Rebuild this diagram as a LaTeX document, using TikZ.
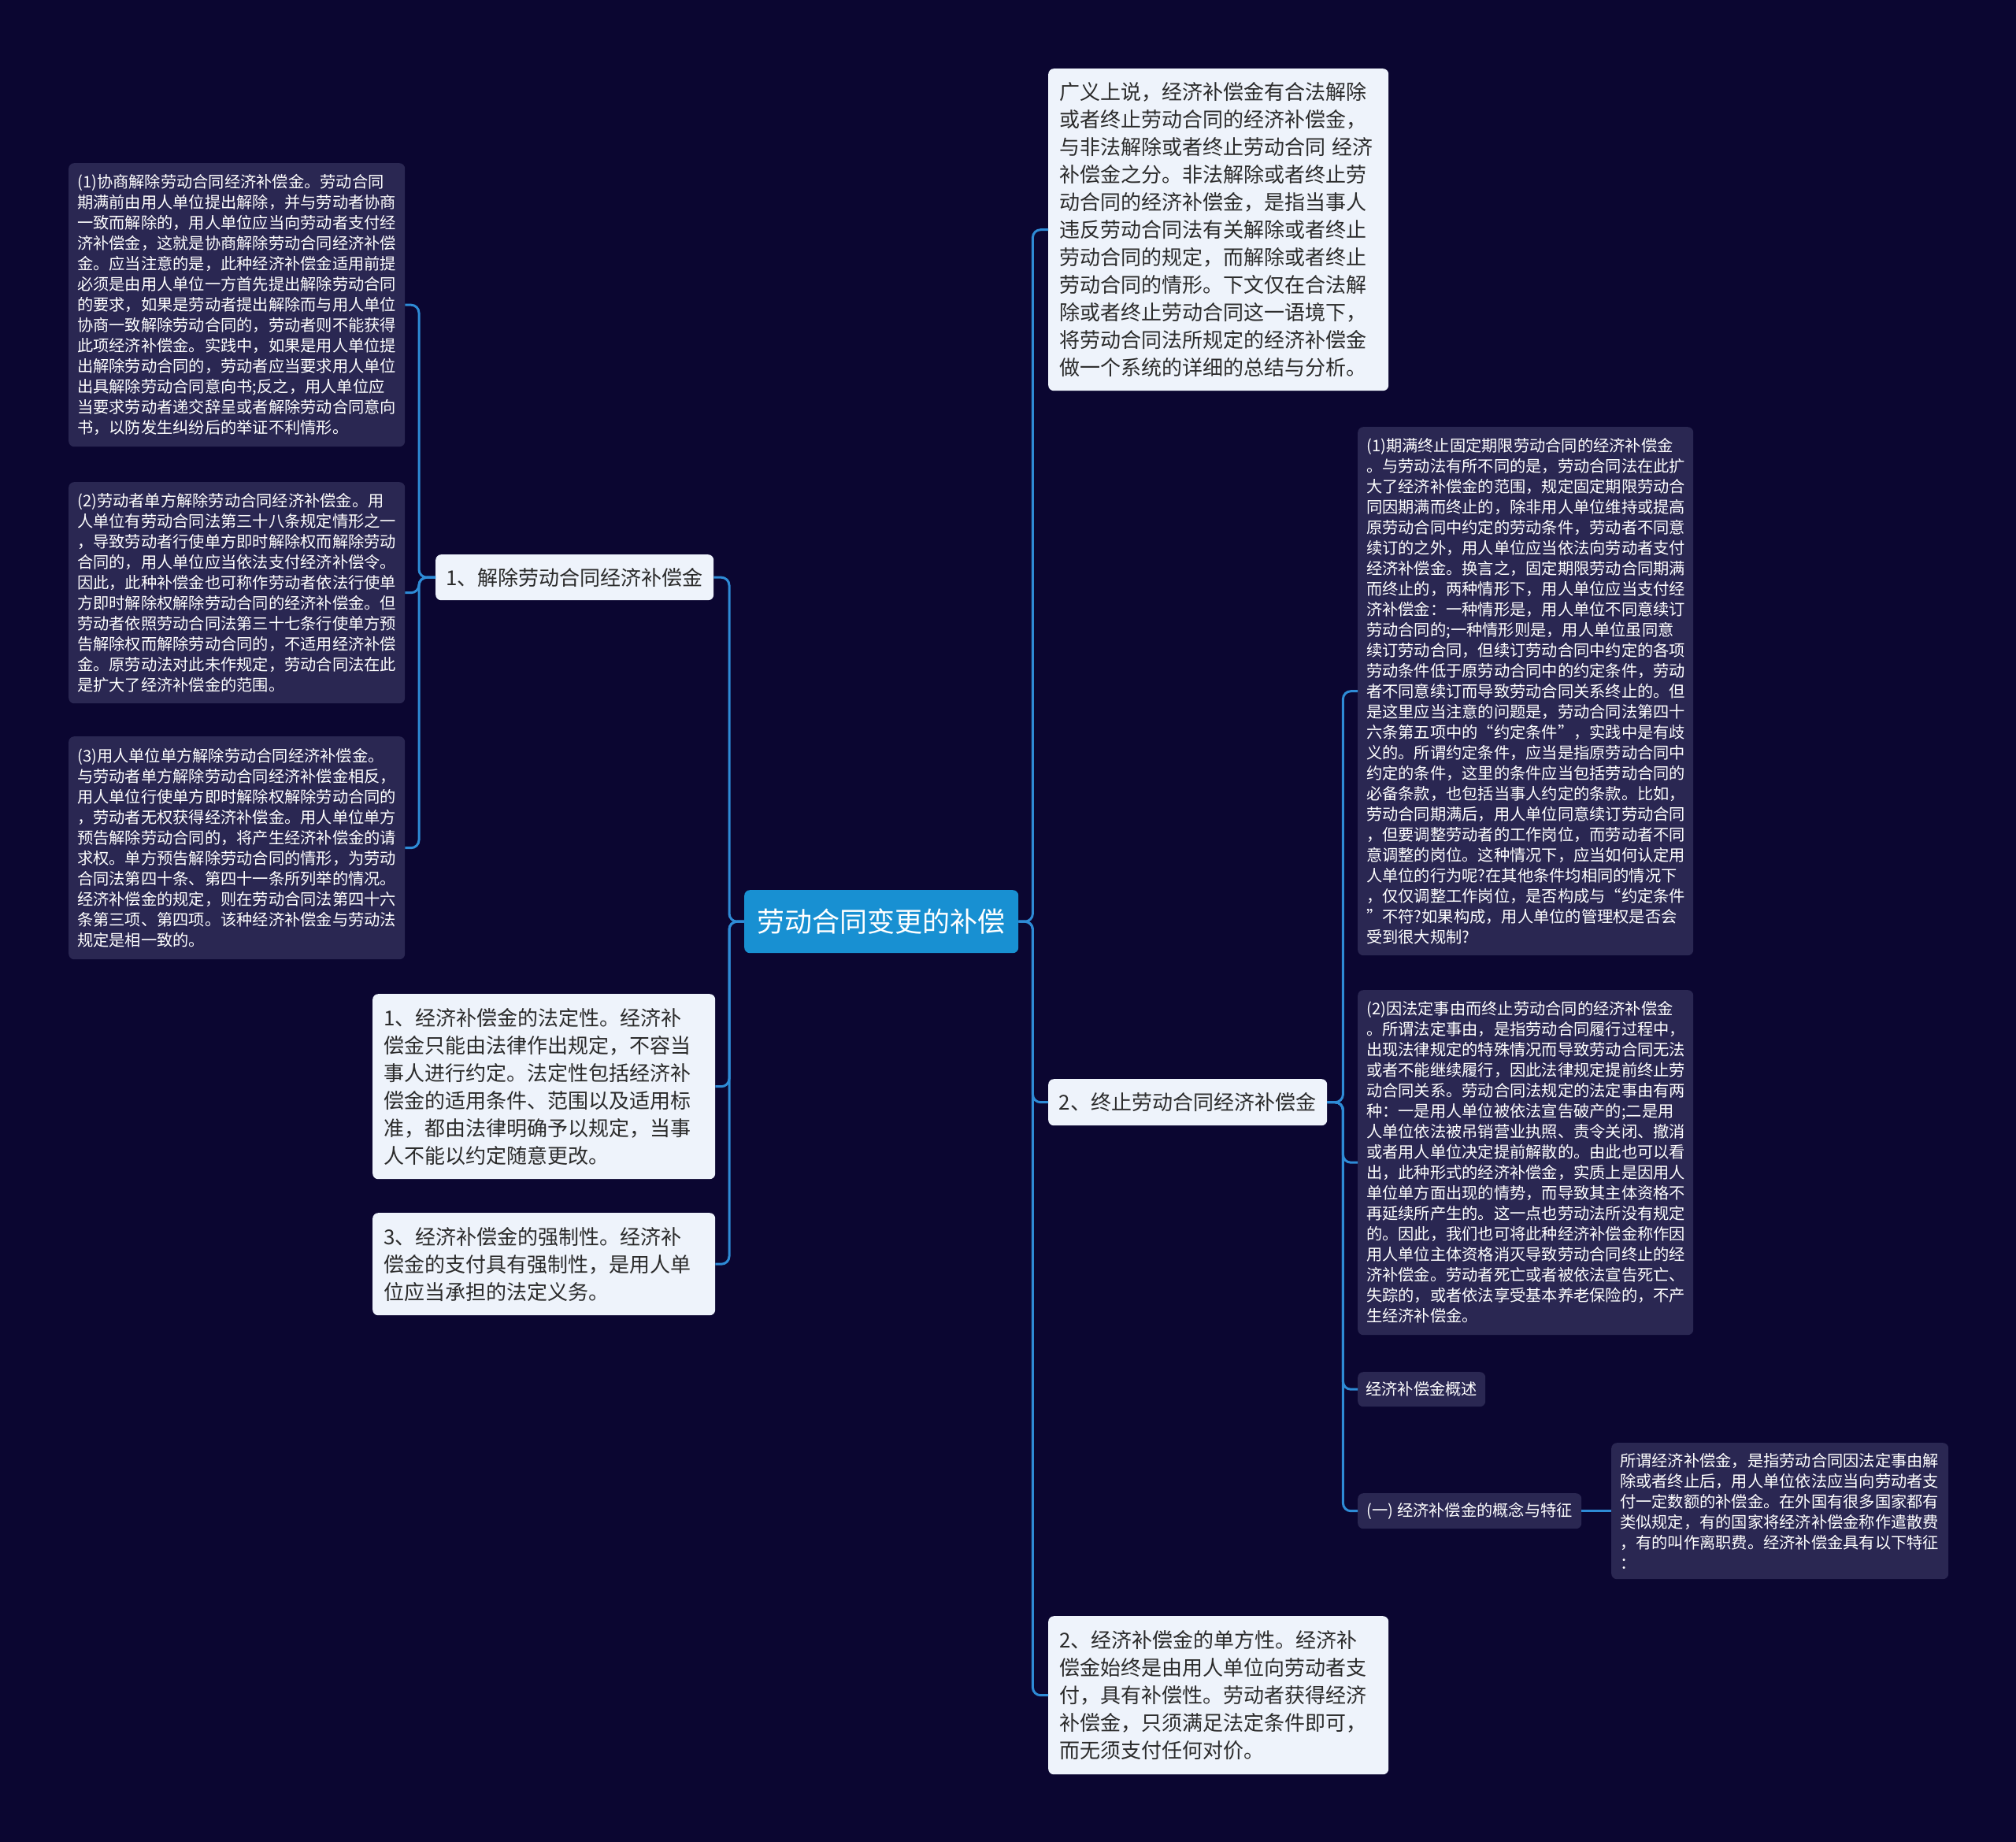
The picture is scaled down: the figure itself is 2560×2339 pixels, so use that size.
\documentclass[tikz,border=0pt]{standalone}
\usepackage{fontspec}
\newfontfamily\cjk{Noto Sans CJK SC}
\definecolor{bgc}{HTML}{0B0631}
\definecolor{lightc}{HTML}{EEF3FB}
\definecolor{darkc}{HTML}{2A2752}
\definecolor{darktext}{HTML}{2B2B2B}
\definecolor{rootc}{HTML}{1890D2}
\definecolor{linec}{HTML}{2E8BD6}
\begin{document}
\begin{tikzpicture}[x=1pt,y=-1pt,
  box/.style={anchor=north west, rounded corners=7pt, inner ysep=0pt},
  lightbox/.style={box, fill=lightc, text=darktext, font=\cjk\fontsize{26}{35}\selectfont, inner xsep=14pt, align=left},
  darkbox/.style={box, fill=darkc, text=white, font=\cjk\fontsize{20.25}{26}\selectfont, inner xsep=11pt, align=left},
  lightlabel/.style={box, fill=lightc, text=darktext, font=\cjk\fontsize{26}{35}\selectfont, inner xsep=0pt, align=center},
  darklabel/.style={box, fill=darkc, text=white, font=\cjk\fontsize{20.25}{26}\selectfont, inner xsep=0pt, align=center},
  rootbox/.style={box, fill=rootc, text=white, font=\cjk\fontsize{35}{42}\selectfont, inner xsep=0pt, align=center},
  conn/.style={draw=linec, line width=3pt, rounded corners=10pt}]
\useasboundingbox (0,0) rectangle (2560,2339);
\fill[bgc] (0,0) rectangle (2560,2339);

% root
\node[rootbox, minimum width=348pt, minimum height=80pt] (root) at (945,1130) {劳动合同变更的补偿};

% left branch
\node[lightlabel, minimum width=353pt, minimum height=58pt] (B1) at (553,704) {1、解除劳动合同经济补偿金};

\node[darkbox, text width=405pt, minimum height=360pt] (L1) at (87,207) {(1)协商解除劳动合同经济补偿金。劳动合同\\
期满前由用人单位提出解除，并与劳动者协商\\
一致而解除的，用人单位应当向劳动者支付经\\
济补偿金，这就是协商解除劳动合同经济补偿\\
金。应当注意的是，此种经济补偿金适用前提\\
必须是由用人单位一方首先提出解除劳动合同\\
的要求，如果是劳动者提出解除而与用人单位\\
协商一致解除劳动合同的，劳动者则不能获得\\
此项经济补偿金。实践中，如果是用人单位提\\
出解除劳动合同的，劳动者应当要求用人单位\\
出具解除劳动合同意向书;反之，用人单位应\\
当要求劳动者递交辞呈或者解除劳动合同意向\\
书，以防发生纠纷后的举证不利情形。};

\node[darkbox, text width=405pt, minimum height=281pt] (L2) at (87,612) {(2)劳动者单方解除劳动合同经济补偿金。用\\
人单位有劳动合同法第三十八条规定情形之一\\
，导致劳动者行使单方即时解除权而解除劳动\\
合同的，用人单位应当依法支付经济补偿令。\\
因此，此种补偿金也可称作劳动者依法行使单\\
方即时解除权解除劳动合同的经济补偿金。但\\
劳动者依照劳动合同法第三十七条行使单方预\\
告解除权而解除劳动合同的，不适用经济补偿\\
金。原劳动法对此未作规定，劳动合同法在此\\
是扩大了经济补偿金的范围。};

\node[darkbox, text width=405pt, minimum height=283pt] (L3) at (87,935) {(3)用人单位单方解除劳动合同经济补偿金。\\
与劳动者单方解除劳动合同经济补偿金相反，\\
用人单位行使单方即时解除权解除劳动合同的\\
，劳动者无权获得经济补偿金。用人单位单方\\
预告解除劳动合同的，将产生经济补偿金的请\\
求权。单方预告解除劳动合同的情形，为劳动\\
合同法第四十条、第四十一条所列举的情况。\\
经济补偿金的规定，则在劳动合同法第四十六\\
条第三项、第四项。该种经济补偿金与劳动法\\
规定是相一致的。};

\node[lightbox, text width=407pt, minimum height=235pt] (LA) at (473,1262) {1、经济补偿金的法定性。经济补\\
偿金只能由法律作出规定，不容当\\
事人进行约定。法定性包括经济补\\
偿金的适用条件、范围以及适用标\\
准，都由法律明确予以规定，当事\\
人不能以约定随意更改。};

\node[lightbox, text width=407pt, minimum height=130pt] (LC) at (473,1540) {3、经济补偿金的强制性。经济补\\
偿金的支付具有强制性，是用人单\\
位应当承担的法定义务。};

% right side
\node[lightbox, text width=404pt, minimum height=409pt] (RT) at (1331,87) {广义上说，经济补偿金有合法解除\\
或者终止劳动合同的经济补偿金，\\
与非法解除或者终止劳动合同 经济\\
补偿金之分。非法解除或者终止劳\\
动合同的经济补偿金，是指当事人\\
违反劳动合同法有关解除或者终止\\
劳动合同的规定，而解除或者终止\\
劳动合同的情形。下文仅在合法解\\
除或者终止劳动合同这一语境下，\\
将劳动合同法所规定的经济补偿金\\
做一个系统的详细的总结与分析。};

\node[lightlabel, minimum width=354pt, minimum height=59pt] (B2) at (1331,1370) {2、终止劳动合同经济补偿金};

\node[lightbox, text width=404pt, minimum height=201pt] (RB) at (1331,2052) {2、经济补偿金的单方性。经济补\\
偿金始终是由用人单位向劳动者支\\
付，具有补偿性。劳动者获得经济\\
补偿金，只须满足法定条件即可，\\
而无须支付任何对价。};

\node[darkbox, text width=404pt, minimum height=671pt] (R1) at (1724,542) {(1)期满终止固定期限劳动合同的经济补偿金\\
。与劳动法有所不同的是，劳动合同法在此扩\\
大了经济补偿金的范围，规定固定期限劳动合\\
同因期满而终止的，除非用人单位维持或提高\\
原劳动合同中约定的劳动条件，劳动者不同意\\
续订的之外，用人单位应当依法向劳动者支付\\
经济补偿金。换言之，固定期限劳动合同期满\\
而终止的，两种情形下，用人单位应当支付经\\
济补偿金：一种情形是，用人单位不同意续订\\
劳动合同的;一种情形则是，用人单位虽同意\\
续订劳动合同，但续订劳动合同中约定的各项\\
劳动条件低于原劳动合同中的约定条件，劳动\\
者不同意续订而导致劳动合同关系终止的。但\\
是这里应当注意的问题是，劳动合同法第四十\\
六条第五项中的“约定条件”，实践中是有歧\\
义的。所谓约定条件，应当是指原劳动合同中\\
约定的条件，这里的条件应当包括劳动合同的\\
必备条款，也包括当事人约定的条款。比如，\\
劳动合同期满后，用人单位同意续订劳动合同\\
，但要调整劳动者的工作岗位，而劳动者不同\\
意调整的岗位。这种情况下，应当如何认定用\\
人单位的行为呢?在其他条件均相同的情况下\\
，仅仅调整工作岗位，是否构成与“约定条件\\
”不符?如果构成，用人单位的管理权是否会\\
受到很大规制?};

\node[darkbox, text width=404pt, minimum height=438pt] (R2) at (1724,1257) {(2)因法定事由而终止劳动合同的经济补偿金\\
。所谓法定事由，是指劳动合同履行过程中，\\
出现法律规定的特殊情况而导致劳动合同无法\\
或者不能继续履行，因此法律规定提前终止劳\\
动合同关系。劳动合同法规定的法定事由有两\\
种：一是用人单位被依法宣告破产的;二是用\\
人单位依法被吊销营业执照、责令关闭、撤消\\
或者用人单位决定提前解散的。由此也可以看\\
出，此种形式的经济补偿金，实质上是因用人\\
单位单方面出现的情势，而导致其主体资格不\\
再延续所产生的。这一点也劳动法所没有规定\\
的。因此，我们也可将此种经济补偿金称作因\\
用人单位主体资格消灭导致劳动合同终止的经\\
济补偿金。劳动者死亡或者被依法宣告死亡、\\
失踪的，或者依法享受基本养老保险的，不产\\
生经济补偿金。};

\node[darklabel, minimum width=162pt, minimum height=44pt] (GS) at (1724,1742) {经济补偿金概述};

\node[darklabel, minimum width=284pt, minimum height=45pt] (G1) at (1724,1896) {(一) 经济补偿金的概念与特征};

\node[darkbox, text width=406pt, minimum height=173pt] (GG) at (2046,1832) {所谓经济补偿金，是指劳动合同因法定事由解\\
除或者终止后，用人单位依法应当向劳动者支\\
付一定数额的补偿金。在外国有很多国家都有\\
类似规定，有的国家将经济补偿金称作遣散费\\
，有的叫作离职费。经济补偿金具有以下特征\\
：};

% connectors
\draw[conn] (root.west) -- ++(-19,0) |- (B1.east);
\draw[conn] (root.west) -- ++(-19,0) |- (LA.east);
\draw[conn] (root.west) -- ++(-19,0) |- (LC.east);
\draw[conn] (root.east) -- ++(18,0) |- (RT.west);
\draw[conn] (root.east) -- ++(18,0) |- (B2.west);
\draw[conn] (root.east) -- ++(18,0) |- (RB.west);
\draw[conn] (B1.west) -- ++(-21,0) |- (L1.east);
\draw[conn] (B1.west) -- ++(-21,0) |- (L2.east);
\draw[conn] (B1.west) -- ++(-21,0) |- (L3.east);
\draw[conn] (B2.east) -- ++(20,0) |- (R1.west);
\draw[conn] (B2.east) -- ++(20,0) |- (R2.west);
\draw[conn] (B2.east) -- ++(20,0) |- (GS.west);
\draw[conn] (B2.east) -- ++(20,0) |- (G1.west);
\draw[conn] (G1.east) -- (GG.west);
\end{tikzpicture}
\end{document}
